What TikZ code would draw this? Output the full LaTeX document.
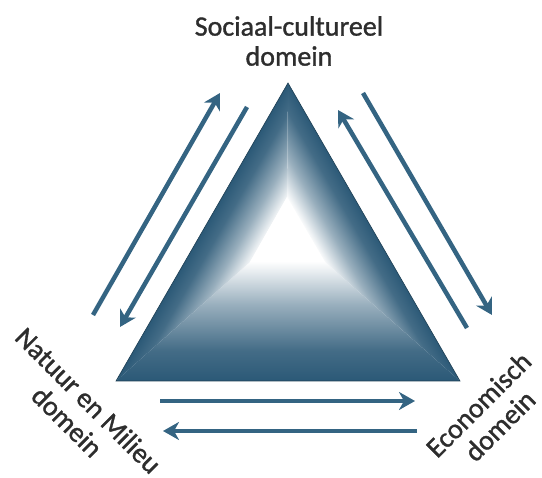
\documentclass[tikz,border=0pt]{standalone}
\usepackage{fontspec}
\setmainfont{Carlito}
\newfontfamily\lblfont{Carlito}[FakeBold=1.2]
\usetikzlibrary{arrows.meta}
\definecolor{arrowc}{RGB}{52,100,130}
\definecolor{edgec}{RGB}{42,88,118}
\definecolor{textc}{RGB}{45,45,45}
\pgfdeclareverticalshading{bevel}{100bp}{color(0bp)=(edgec); color(25bp)=(edgec); color(38bp)=(edgec!88!white); color(57bp)=(edgec!48!white); color(71bp)=(edgec!10!white); color(75bp)=(white); color(100bp)=(white)}
\begin{document}
\begin{tikzpicture}[x=1pt,y=1pt,
  flow/.style={draw=arrowc, line width=4.5pt, -{Stealth[length=16pt,width=18pt,inset=5pt]}},
  domlabel/.style={text=textc, font=\lblfont\fontsize{28}{30}\selectfont, align=center, inner sep=0pt}]
\useasboundingbox (0,0) rectangle (542,478);
\coordinate (A) at (288,395);
\coordinate (BL) at (116,97);
\coordinate (BR) at (460,97);
\coordinate (IA) at (287,281);
\coordinate (IBL) at (250,216);
\coordinate (IBR) at (325,216);
% bottom band
\begin{scope}
  \clip (BL)--(BR)--(IBR)--(IBL)--cycle;
  \shade[shading=bevel] (100,96) rectangle (480,217);
\end{scope}
% left band
\begin{scope}
  \clip (BL)--(A)--(IA)--(IBL)--cycle;
  \begin{scope}[transform canvas={rotate around={60:(BL)}}]
    \shade[shading=bevel, shading angle=180] (40,38) rectangle (540,98);
  \end{scope}
\end{scope}
% right band
\begin{scope}
  \clip (BR)--(A)--(IA)--(IBR)--cycle;
  \begin{scope}[transform canvas={rotate around={120:(BR)}}]
    \shade[shading=bevel] (380,96) rectangle (880,156);
  \end{scope}
\end{scope}
\fill[white] (IA)--(IBL)--(IBR)--cycle;
\draw[edgec!70!black, line width=0.6pt, line join=miter] (A)--(BL)--(BR)--cycle;
% arrows
\coordinate (l1s) at (93,163);  \coordinate (l1e) at (220,385);
\coordinate (l2s) at (247,371); \coordinate (l2e) at (120,151);
\coordinate (r1s) at (467,150); \coordinate (r1e) at (338,368);
\coordinate (r2s) at (363,385); \coordinate (r2e) at (492,163);
\coordinate (b1s) at (160,77);  \coordinate (b1e) at (415,77);
\coordinate (b2s) at (417,47);  \coordinate (b2e) at (163,47);
\draw[flow] (l1s) -- (l1e);
\draw[flow] (l2s) -- (l2e);
\draw[flow] (r1s) -- (r1e);
\draw[flow] (r2s) -- (r2e);
\draw[flow] (b1s) -- (b1e);
\draw[flow] (b2s) -- (b2e);
% labels
\node[domlabel] (soc) at (289,437) {Sociaal-cultureel\\domein};
\node[domlabel, rotate=-45] (nat) at (78,67) {Natuur en Milieu\\domein};
\node[domlabel, rotate=45] (eco) at (489,63) {Economisch\\domein};
\end{tikzpicture}
\end{document}
